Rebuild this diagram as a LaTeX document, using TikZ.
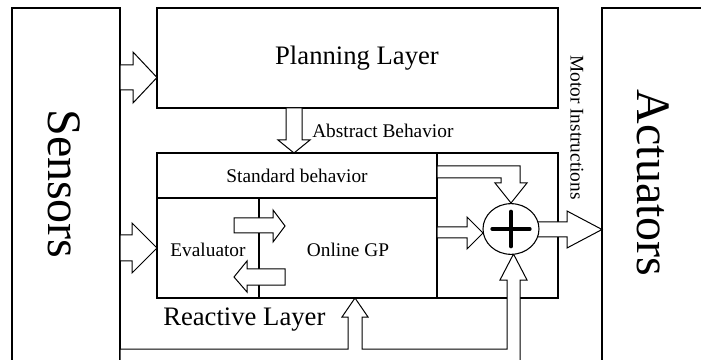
\documentclass[tikz,border=0pt]{standalone}
\usepackage{fontspec}
\setmainfont{Liberation Serif}
\usetikzlibrary{shapes.geometric}

\tikzset{
 box/.style={line width=0.8pt},
 hollow/.style={line width=0.75pt, fill=white, line join=miter},
 big/.style={font=\fontsize{36}{40}\selectfont, inner sep=0pt},
 layer/.style={font=\fontsize{20}{24}\selectfont, inner sep=0pt},
 small/.style={font=\fontsize{14.5}{17}\selectfont, inner sep=0pt},
}

\begin{document}
\begin{tikzpicture}[x=0.75pt, y=-0.75pt]
\useasboundingbox (0,0) rectangle (701,360);
\clip (0,0) rectangle (701,360);

% outer blocks
\draw[box] (12,370)--(12,8)--(120,8)--(120,370);
\draw[box] (602,370)--(602,8)--(710,8);
\draw[box] (157,8) rectangle (558,108);

% reactive layer and its parts
\draw[box] (157,153) rectangle (558,298);
\draw[box] (157,198)--(437,198);
\draw[box] (437,153)--(437,298);
\draw[box] (259,198)--(259,298);

% wide arrows
\filldraw[hollow] (120,65)--(133,65)--(133,52)--(157,77.5)--(133,103)--(133,90)--(120,90)--cycle;
\filldraw[hollow] (120,235)--(132,235)--(132,223)--(157,248)--(132,273)--(132,261)--(120,261)--cycle;
\filldraw[hollow] (286,108)--(286,140)--(278,140)--(294,153)--(310,140)--(302,140)--(302,108)--cycle;

% between evaluator and online GP
\filldraw[hollow] (234,218)--(273,218)--(273,210)--(285,226)--(273,242)--(273,233)--(234,233)--cycle;
\filldraw[hollow] (285,269)--(247,269)--(247,261)--(234,277)--(247,292)--(247,285)--(285,285)--cycle;

% into the sum
\filldraw[hollow] (437,166)--(520,166)--(520,183)--(527,183)--(511,203)--(495,183)--(501,183)--(501,178)--(437,178)--cycle;
\filldraw[hollow] (437,227)--(467,227)--(467,217)--(483,233)--(467,249)--(467,238)--(437,238)--cycle;
\filldraw[hollow] (530,222)--(567,222)--(567,211)--(602,229.5)--(567,248)--(567,237)--(530,237)--cycle;

% feedback from the sensors
\filldraw[hollow] (120,349)--(348,349)--(348,317)--(342,317)--(355,298)--(368,317)--(362,317)--(362,349)
 --(507,349)--(507,280)--(500,280)--(513.5,254)--(527,280)--(520,280)--(520,370)--(120,370)--cycle;

\node[draw, ellipse, fill=white, line width=0.8pt, minimum width=42pt, minimum height=38pt, inner sep=0pt] (sum) at (511,229) {};
\draw[line width=3pt, line cap=round] ([xshift=-14pt]sum.center)--([xshift=14pt]sum.center);
\draw[line width=3pt, line cap=round] ([yshift=-13pt]sum.center)--([yshift=13pt]sum.center);

% labels
\node[big, rotate=-90] (sensors) at (64,184) {Sensors};
\node[big, rotate=-90] (actuators) at (653,183) {Actuators};
\node[layer] (planning) at (357,58) {Planning Layer};
\node[layer, anchor=west] (reactive) at (163,320) {Reactive Layer};
\node[small] (standard) at (297,176) {Standard behavior};
\node[small] (evaluator) at (208,250) {Evaluator};
\node[small] (gp) at (348,250) {Online GP};
\node[small, anchor=west] (abstract) at (312,131) {Abstract Behavior};
\node[small, rotate=-90, anchor=west] (motor) at (577,55) {Motor Instructions};

\end{tikzpicture}
\end{document}
